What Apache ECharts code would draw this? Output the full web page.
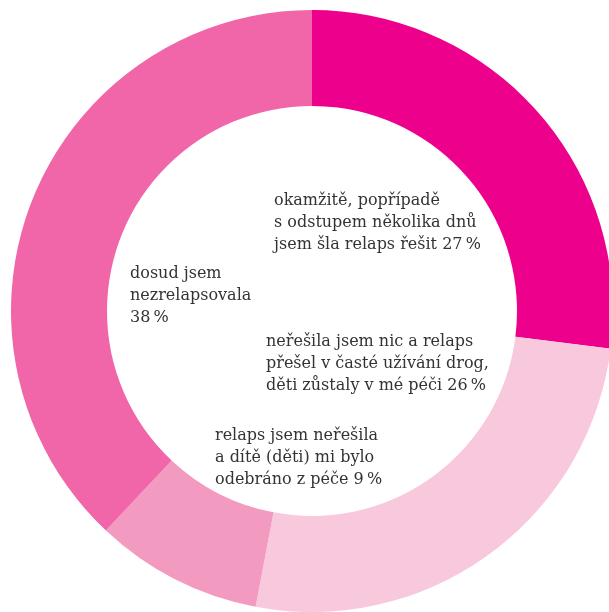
<!DOCTYPE html>
<html>
<head>
<meta charset="utf-8">
<style>
  html, body { margin: 0; padding: 0; background: #ffffff; }
  #chart { width: 609px; height: 612px; }
</style>
<script src="https://cdn.jsdelivr.net/npm/echarts@6/dist/echarts.min.js"></script>
</head>
<body>
<div id="chart"></div>
<script>
// Answers, in clockwise order from 12 o'clock
const categories = [
  ['okamžitě, popřípadě', 's odstupem několika dnů', 'jsem šla relaps řešit'],
  ['neřešila jsem nic a relaps', 'přešel v časté užívání drog,', 'děti zůstaly v mé péči'],
  ['relaps jsem neřešila', 'a dítě (děti) mi bylo', 'odebráno z péče'],
  ['dosud jsem', 'nezrelapsovala', '']
];
const shares = [27, 26, 9, 38];
const sliceColors = ['#ec008c', '#f8c8dc', '#f39ac1', '#f066a8'];

// Where each caption sits inside the hole (left edge, first line centre)
const captionAnchors = [[274, 201], [266, 342], [215, 436], [130, 274]];

const pct = v => v + '\u2009%';

function captionText(lines, value) {
  const out = lines.slice();
  if (out[out.length - 1] === '') out[out.length - 1] = pct(value);
  else out[out.length - 1] = out[out.length - 1] + ' ' + pct(value);
  return out.join('\n');
}

const chart = echarts.init(document.getElementById('chart'), null, { renderer: 'canvas' });

chart.setOption({
  animation: false,
  backgroundColor: '#ffffff',
  series: [{
    type: 'pie',
    center: [312, 311],
    radius: [205, 301],
    startAngle: 90,
    clockwise: true,
    silent: true,
    label: { show: false },
    labelLine: { show: false },
    itemStyle: { borderWidth: 0 },
    data: shares.map((v, i) => ({
      value: v,
      name: categories[i].join(' '),
      itemStyle: { color: sliceColors[i] }
    }))
  }],
  graphic: categories.map((lines, i) => ({
    type: 'text',
    left: captionAnchors[i][0],
    top: captionAnchors[i][1] - 11,
    style: {
      text: captionText(lines, shares[i]),
      font: '16px "DejaVu Serif"',
      fill: '#333333',
      lineHeight: 22,
      align: 'left',
      verticalAlign: 'top'
    }
  }))
});
</script>
</body>
</html>
